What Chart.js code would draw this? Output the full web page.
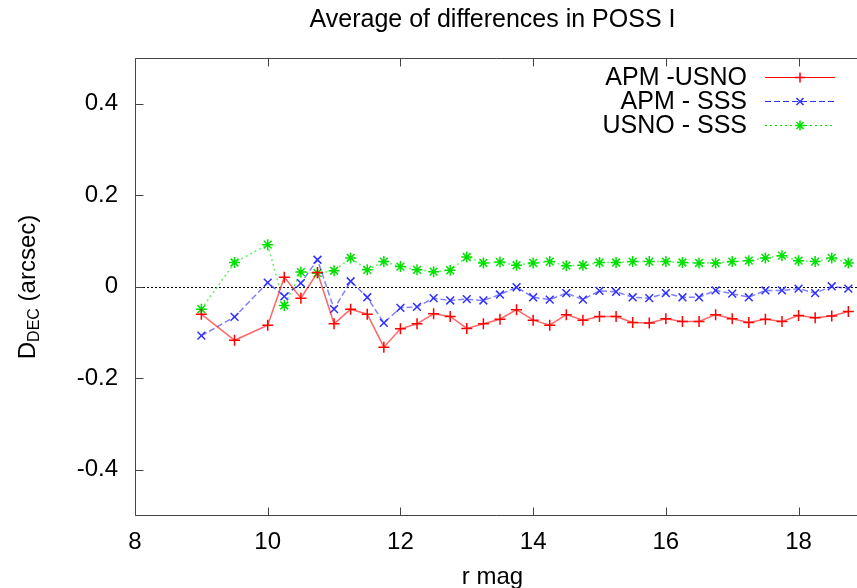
<!DOCTYPE html>
<html>
<head>
<meta charset="utf-8">
<script src="https://cdn.jsdelivr.net/npm/chart.js@4.4.0/dist/chart.umd.min.js"></script>
<style>
  html, body { margin: 0; padding: 0; background: #fff; }
</style>
</head>
<body>
<canvas id="myChart" width="857" height="588"></canvas>
<script>
// r magnitude bins and the mean DEC differences (arcsec)
var rmag = [9, 9.5, 10, 10.25, 10.5, 10.75, 11, 11.25, 11.5, 11.75,
            12, 12.25, 12.5, 12.75, 13, 13.25, 13.5, 13.75, 14, 14.25,
            14.5, 14.75, 15, 15.25, 15.5, 15.75, 16, 16.25, 16.5, 16.75,
            17, 17.25, 17.5, 17.75, 18, 18.25, 18.5, 18.75];
var apmUsno = [-0.060, -0.117, -0.084, 0.021, -0.025, 0.031, -0.081, -0.049, -0.060, -0.132,
               -0.092, -0.081, -0.059, -0.065, -0.091, -0.081, -0.071, -0.050, -0.073, -0.084,
               -0.061, -0.073, -0.065, -0.065, -0.078, -0.079, -0.070, -0.076, -0.076, -0.061,
               -0.070, -0.078, -0.071, -0.076, -0.063, -0.068, -0.064, -0.054];
var apmSss = [-0.107, -0.066, 0.009, -0.021, 0.008, 0.059, -0.049, 0.012, -0.023, -0.079,
              -0.046, -0.044, -0.025, -0.030, -0.027, -0.030, -0.017, -0.001, -0.023, -0.028,
              -0.014, -0.028, -0.009, -0.011, -0.023, -0.025, -0.014, -0.023, -0.023, -0.008,
              -0.015, -0.023, -0.008, -0.008, -0.004, -0.014, 0.001, -0.004];
var usnoSss = [-0.049, 0.053, 0.092, -0.041, 0.032, 0.030, 0.035, 0.063, 0.037, 0.055,
               0.044, 0.037, 0.033, 0.036, 0.065, 0.052, 0.054, 0.047, 0.052, 0.055,
               0.046, 0.047, 0.053, 0.053, 0.055, 0.055, 0.055, 0.053, 0.052, 0.052,
               0.055, 0.057, 0.063, 0.068, 0.057, 0.055, 0.063, 0.052];
var seriesNames = ["APM -USNO", "APM - SSS", "USNO - SSS"];
var xTicks = [8, 10, 12, 14, 16, 18];
var yTicks = [-0.4, -0.2, 0, 0.2, 0.4];

var FONT = '"Liberation Sans", Arial, sans-serif';

function pts(ys) {
  var out = [];
  for (var i = 0; i < rmag.length; i++) out.push({x: rmag[i], y: ys[i]});
  return out;
}

// frame, inward ticks, zero line, legend and y label (gnuplot look)
var gnuplotBits = {
  id: 'gnuplotBits',
  beforeDatasetsDraw: function(chart) {
    var c = chart.ctx, a = chart.chartArea, xs = chart.scales.x, ys = chart.scales.y;
    c.save();
    var y0 = Math.round(ys.getPixelForValue(0)) + 0.5;
    c.strokeStyle = '#000';
    c.lineWidth = 1;
    c.setLineDash([2, 2]);
    c.beginPath(); c.moveTo(a.left, y0); c.lineTo(chart.width, y0); c.stroke();
    c.setLineDash([]);

    var L = Math.round(a.left) + 0.5, T = Math.round(a.top) + 0.5, B = Math.round(a.bottom) - 0.5;
    c.strokeStyle = '#444';
    c.beginPath();
    c.moveTo(chart.width, T); c.lineTo(L, T); c.lineTo(L, B); c.lineTo(chart.width, B);
    xTicks.forEach(function(v) {
      var px = Math.round(xs.getPixelForValue(v)) + 0.5;
      c.moveTo(px, B); c.lineTo(px, B - 8);
      c.moveTo(px, T); c.lineTo(px, T + 8);
    });
    yTicks.forEach(function(v) {
      var py = Math.round(ys.getPixelForValue(v)) + 0.5;
      c.moveTo(L, py); c.lineTo(L + 8, py);
    });
    c.stroke();
    c.restore();
  },
  afterDraw: function(chart) {
    var c = chart.ctx;
    c.save();
    // legend, text right-aligned with sample on the right
    chart.data.datasets.forEach(function(ds, i) {
      var y = 77 + i * 24;
      c.font = '25px ' + FONT;
      c.textAlign = 'right';
      c.textBaseline = 'middle';
      c.fillStyle = '#000';
      c.fillText(ds.label, 747, y + 1);
      c.strokeStyle = ds.pointBorderColor;
      c.lineWidth = 1;
      c.setLineDash(ds.borderDash || []);
      c.beginPath(); c.moveTo(765, y + 0.5); c.lineTo(835, y + 0.5); c.stroke();
      c.setLineDash([]);
      c.lineWidth = 1.5;
      Chart.helpers.drawPoint(c, {pointStyle: ds.pointStyle, radius: 5, borderWidth: 1.5, rotation: 0}, 800, y + 0.5);
    });

    // y axis label D_DEC (arcsec)
    c.fillStyle = '#000';
    c.textAlign = 'left';
    c.textBaseline = 'alphabetic';
    c.font = '24px ' + FONT;
    var w1 = c.measureText('D').width, w3 = c.measureText(' (arcsec)').width;
    c.font = '16px ' + FONT;
    var w2 = c.measureText('DEC').width;
    var total = w1 + w2 + w3;
    c.translate(35, 287 + total / 2);
    c.rotate(-Math.PI / 2);
    c.font = '24px ' + FONT;
    c.fillText('D', 0, 0);
    c.font = '16px ' + FONT;
    c.fillText('DEC', w1, 4);
    c.font = '24px ' + FONT;
    c.fillText(' (arcsec)', w1 + w2, 0);
    c.restore();
  }
};

new Chart("myChart", {
  type: "line",
  data: {
    datasets: [{
      label: seriesNames[0],
      data: pts(apmUsno),
      borderColor: 'rgba(255,0,0,0.6)',
      pointBorderColor: '#ff0000',
      borderWidth: 1.5,
      pointStyle: 'cross',
      pointRadius: 5.5,
      pointBorderWidth: 1.5,
      clip: false
    }, {
      label: seriesNames[1],
      data: pts(apmSss),
      borderColor: 'rgba(0,0,255,0.5)',
      pointBorderColor: '#3030ff',
      borderWidth: 1.5,
      borderDash: [6, 3],
      pointStyle: 'crossRot',
      pointRadius: 5.5,
      pointBorderWidth: 1.5,
      clip: false
    }, {
      label: seriesNames[2],
      data: pts(usnoSss),
      borderColor: 'rgba(0,230,0,0.6)',
      pointBorderColor: '#00e000',
      borderWidth: 1.5,
      borderDash: [2, 3],
      pointStyle: 'star',
      pointRadius: 5.5,
      pointBorderWidth: 1.5,
      clip: false
    }]
  },
  options: {
    responsive: false,
    animation: false,
    layout: { padding: 0 },
    elements: { line: { tension: 0, fill: false } },
    plugins: {
      legend: { display: false },
      tooltip: { enabled: false },
      title: {
        display: true,
        fullSize: false,
        text: "Average of differences in POSS I",
        color: '#000',
        font: { family: FONT, size: 25, weight: 'normal' },
        padding: { top: 5, bottom: 23 }
      }
    },
    scales: {
      x: {
        type: 'linear',
        min: 8,
        max: 18.775,
        grid: { display: false, drawTicks: false },
        border: { display: false },
        afterBuildTicks: function(s) { s.ticks = xTicks.map(function(v) { return {value: v}; }); },
        ticks: {
          color: '#000', padding: 12, maxRotation: 0,
          font: { family: FONT, size: 24 },
          callback: function(v) { return String(v); }
        },
        title: {
          display: true, text: 'r mag', color: '#000',
          font: { family: FONT, size: 24, lineHeight: 0.9 },
          padding: { top: 0, bottom: 0 }
        },
        afterFit: function(s) { s.height = 72.5; }
      },
      y: {
        min: -0.5,
        max: 0.5,
        grid: { display: false, drawTicks: false },
        border: { display: false },
        afterBuildTicks: function(s) { s.ticks = yTicks.map(function(v) { return {value: v}; }); },
        ticks: {
          color: '#000', padding: 17,
          font: { family: FONT, size: 24 },
          callback: function(v) { return String(v); }
        },
        afterFit: function(s) { s.width = 135; }
      }
    }
  },
  plugins: [gnuplotBits]
});
</script>
</body>
</html>
